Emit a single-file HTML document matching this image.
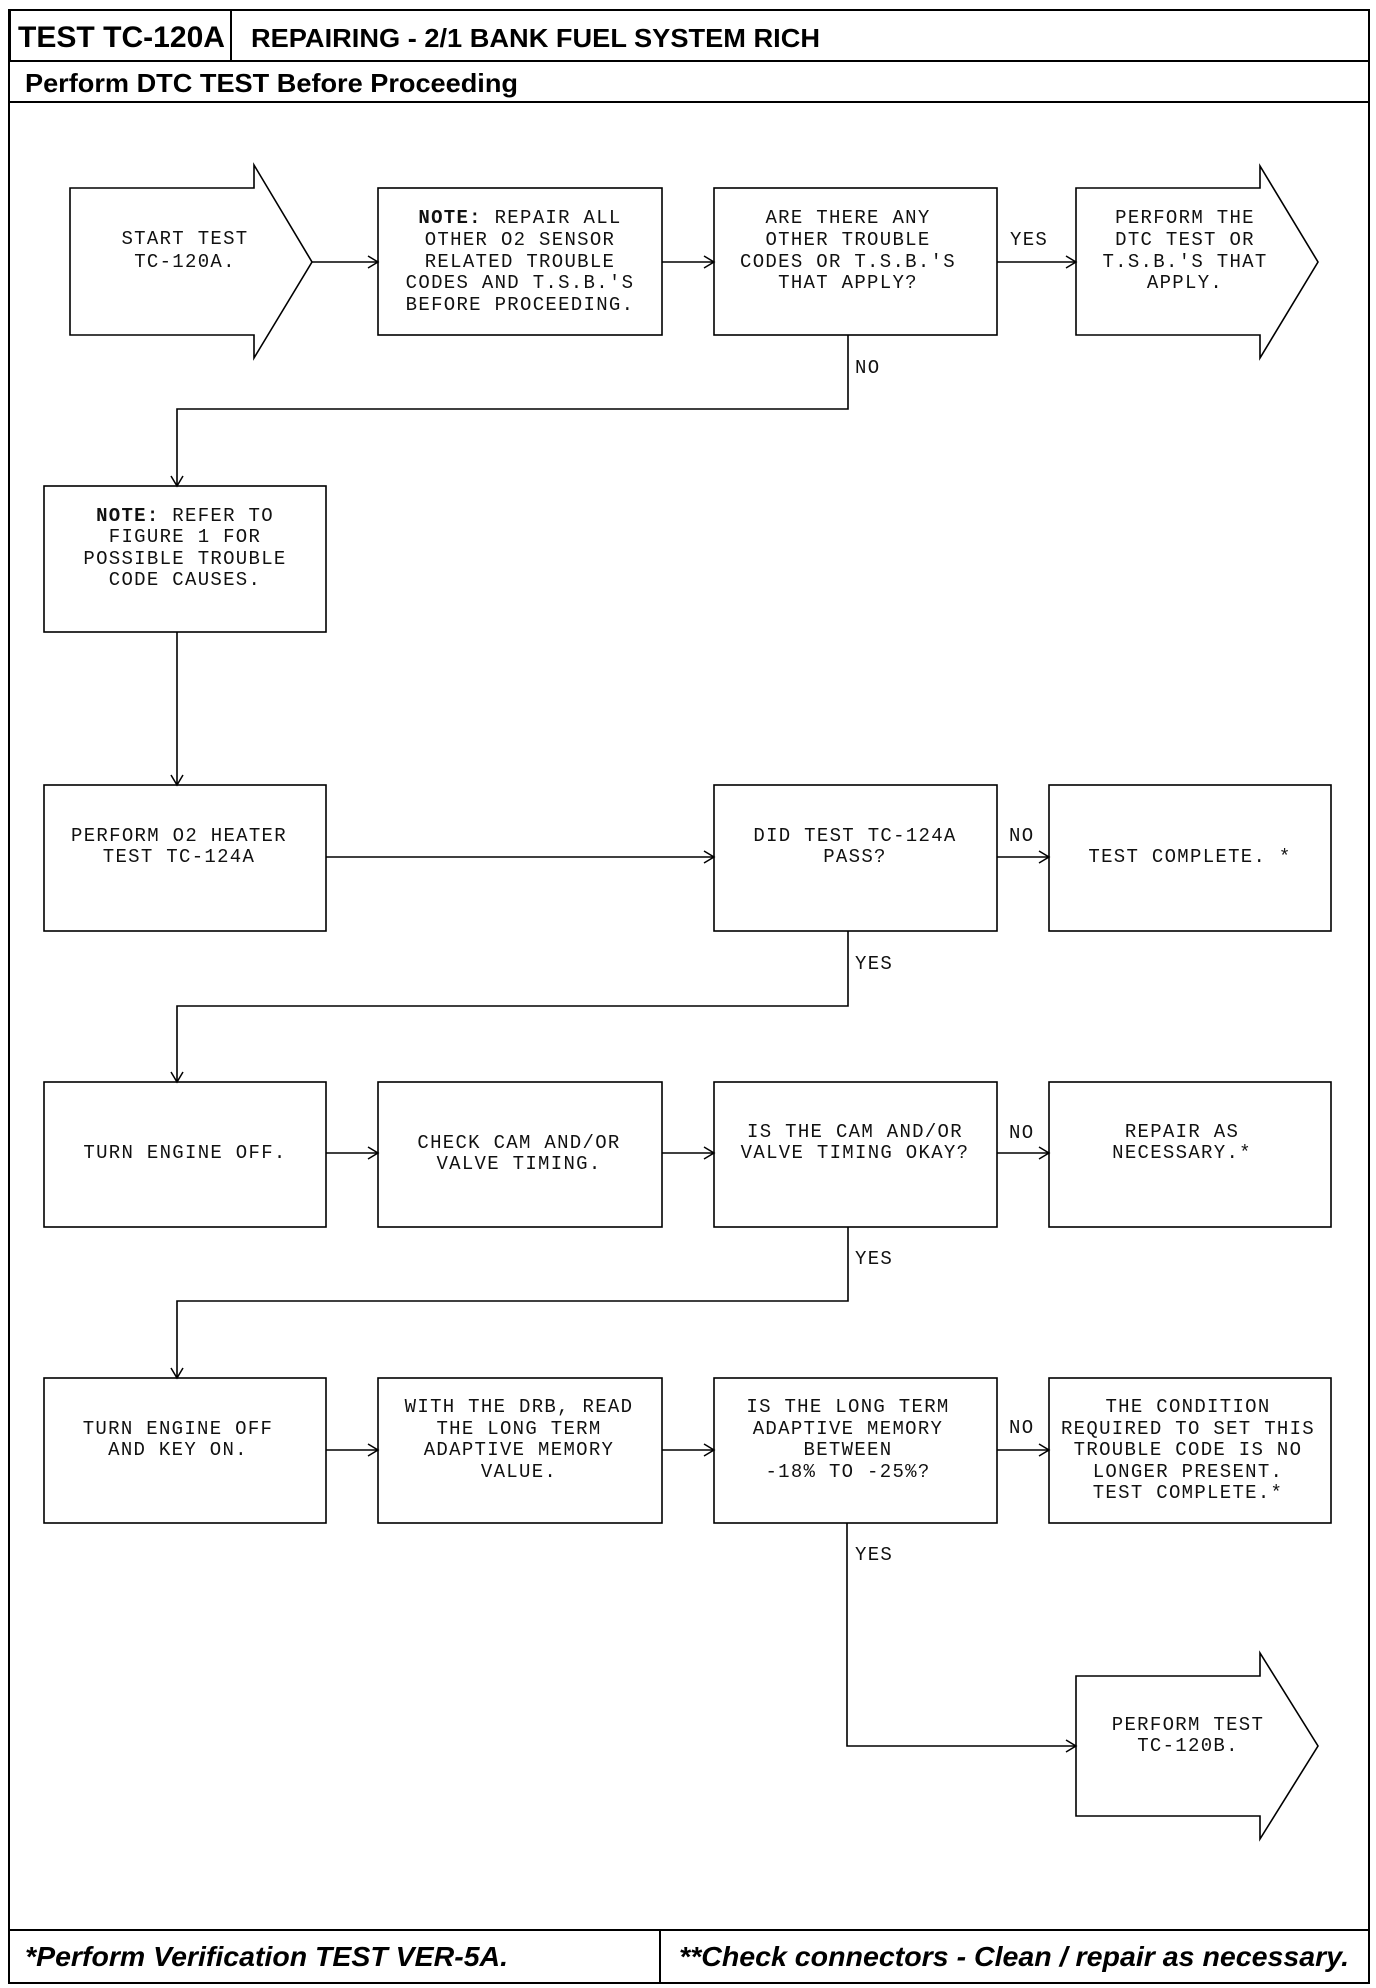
<!DOCTYPE html>
<html><head><meta charset="utf-8"><style>
html,body{margin:0;padding:0;background:#fff;}
svg{display:block}
.m{font-family:"Liberation Mono",monospace;font-size:19px;letter-spacing:1.3px;fill:#111;}
.h{font-family:"Liberation Sans",sans-serif;font-weight:bold;fill:#000;}
</style></head><body>
<svg width="1376" height="1988" viewBox="0 0 1376 1988" xmlns="http://www.w3.org/2000/svg">
<defs>
<marker id="a" markerWidth="14" markerHeight="14" refX="12" refY="7" orient="auto" markerUnits="userSpaceOnUse">
<polyline points="2,1 12,7 2,13" fill="none" stroke="#000" stroke-width="1.5"/>
</marker>
</defs>
<g fill="none" stroke="#000" stroke-width="2">
<rect x="9" y="10" width="1360" height="1973"/>
<rect x="10" y="10" width="221" height="51"/>
<line x1="9" y1="61" x2="1369" y2="61"/>
<line x1="9" y1="102" x2="1369" y2="102"/>
<line x1="9" y1="1930" x2="1369" y2="1930"/>
<line x1="660" y1="1930" x2="660" y2="1983"/>
</g>
<text class="h" x="18" y="47" font-size="30" textLength="207" lengthAdjust="spacingAndGlyphs">TEST TC-120A</text>
<text class="h" x="251" y="47" font-size="26" textLength="569" lengthAdjust="spacingAndGlyphs">REPAIRING - 2/1 BANK FUEL SYSTEM RICH</text>
<text class="h" x="25" y="92" font-size="26" textLength="493" lengthAdjust="spacingAndGlyphs">Perform DTC TEST Before Proceeding</text>
<text class="h" x="25" y="1966" font-size="28" font-style="italic" textLength="483" lengthAdjust="spacingAndGlyphs">*Perform Verification TEST VER-5A.</text>
<text class="h" x="679" y="1966" font-size="28" font-style="italic" textLength="670" lengthAdjust="spacingAndGlyphs">**Check connectors - Clean / repair as necessary.</text>

<g fill="#fff" stroke="#000" stroke-width="1.6">
<polygon points="70,188 254,188 254,165 312,262 254,358 254,335 70,335"/>
<rect x="378" y="188" width="284" height="147"/>
<rect x="714" y="188" width="283" height="147"/>
<polygon points="1076,188 1260,188 1260,166 1318,262 1260,358 1260,335 1076,335"/>
<rect x="44" y="486" width="282" height="146"/>
<rect x="44" y="785" width="282" height="146"/>
<rect x="714" y="785" width="283" height="146"/>
<rect x="1049" y="785" width="282" height="146"/>
<rect x="44" y="1082" width="282" height="145"/>
<rect x="378" y="1082" width="284" height="145"/>
<rect x="714" y="1082" width="283" height="145"/>
<rect x="1049" y="1082" width="282" height="145"/>
<rect x="44" y="1378" width="282" height="145"/>
<rect x="378" y="1378" width="284" height="145"/>
<rect x="714" y="1378" width="283" height="145"/>
<rect x="1049" y="1378" width="282" height="145"/>
<polygon points="1076,1676 1260,1676 1260,1653 1318,1746 1260,1839 1260,1816 1076,1816"/>
</g>

<g fill="none" stroke="#000" stroke-width="1.6" marker-end="url(#a)">
<line x1="312" y1="262" x2="378" y2="262"/>
<line x1="662" y1="262" x2="714" y2="262"/>
<line x1="997" y1="262" x2="1076" y2="262"/>
<polyline points="848,335 848,409 177,409 177,486"/>
<line x1="177" y1="632" x2="177" y2="785"/>
<line x1="326" y1="857" x2="714" y2="857"/>
<line x1="997" y1="857" x2="1049" y2="857"/>
<polyline points="848,931 848,1006 177,1006 177,1082"/>
<line x1="326" y1="1153" x2="378" y2="1153"/>
<line x1="662" y1="1153" x2="714" y2="1153"/>
<line x1="997" y1="1153" x2="1049" y2="1153"/>
<polyline points="848,1227 848,1301 177,1301 177,1378"/>
<line x1="326" y1="1450" x2="378" y2="1450"/>
<line x1="662" y1="1450" x2="714" y2="1450"/>
<line x1="997" y1="1450" x2="1049" y2="1450"/>
<polyline points="847,1523 847,1746 1076,1746"/>
</g>

<g class="m" text-anchor="middle" dominant-baseline="central">
<text x="185" y="239">START TEST</text><text x="185" y="262">TC-120A.</text>
<text x="520" y="218"><tspan font-weight="bold">NOTE:</tspan> REPAIR ALL</text>
<text x="520" y="240">OTHER O2 SENSOR</text><text x="520" y="262">RELATED TROUBLE</text>
<text x="520" y="283">CODES AND T.S.B.'S</text><text x="520" y="305">BEFORE PROCEEDING.</text>
<text x="848" y="218">ARE THERE ANY</text><text x="848" y="240">OTHER TROUBLE</text>
<text x="848" y="262">CODES OR T.S.B.'S</text><text x="848" y="283">THAT APPLY?</text>
<text x="1185" y="218">PERFORM THE</text><text x="1185" y="240">DTC TEST OR</text>
<text x="1185" y="262">T.S.B.'S THAT</text><text x="1185" y="283">APPLY.</text>
<text x="185" y="516"><tspan font-weight="bold">NOTE:</tspan> REFER TO</text><text x="185" y="537">FIGURE 1 FOR</text>
<text x="185" y="559">POSSIBLE TROUBLE</text><text x="185" y="580">CODE CAUSES.</text>
<text x="179" y="836">PERFORM O2 HEATER</text><text x="179" y="857">TEST TC-124A</text>
<text x="855" y="836">DID TEST TC-124A</text><text x="855" y="857">PASS?</text>
<text x="1190" y="857">TEST COMPLETE. *</text>
<text x="185" y="1153">TURN ENGINE OFF.</text>
<text x="519" y="1143">CHECK CAM AND/OR</text><text x="519" y="1164">VALVE TIMING.</text>
<text x="855" y="1132">IS THE CAM AND/OR</text><text x="855" y="1153">VALVE TIMING OKAY?</text>
<text x="1182" y="1132">REPAIR AS</text><text x="1182" y="1153">NECESSARY.*</text>
<text x="178" y="1429">TURN ENGINE OFF</text><text x="178" y="1450">AND KEY ON.</text>
<text x="519" y="1407">WITH THE DRB, READ</text><text x="519" y="1429">THE LONG TERM</text>
<text x="519" y="1450">ADAPTIVE MEMORY</text><text x="519" y="1472">VALUE.</text>
<text x="848" y="1407">IS THE LONG TERM</text><text x="848" y="1429">ADAPTIVE MEMORY</text>
<text x="848" y="1450">BETWEEN</text><text x="848" y="1472">-18% TO -25%?</text>
<text x="1188" y="1407">THE CONDITION</text><text x="1188" y="1429">REQUIRED TO SET THIS</text>
<text x="1188" y="1450">TROUBLE CODE IS NO</text><text x="1188" y="1472">LONGER PRESENT.</text>
<text x="1188" y="1493">TEST COMPLETE.*</text>
<text x="1188" y="1725">PERFORM TEST</text><text x="1188" y="1746">TC-120B.</text>
</g>
<g class="m" dominant-baseline="central">
<text x="1010" y="240">YES</text>
<text x="855" y="368">NO</text>
<text x="1009" y="836">NO</text>
<text x="855" y="964">YES</text>
<text x="1009" y="1133">NO</text>
<text x="855" y="1259">YES</text>
<text x="1009" y="1428">NO</text>
<text x="855" y="1555">YES</text>
</g>
</svg>
</body></html>
